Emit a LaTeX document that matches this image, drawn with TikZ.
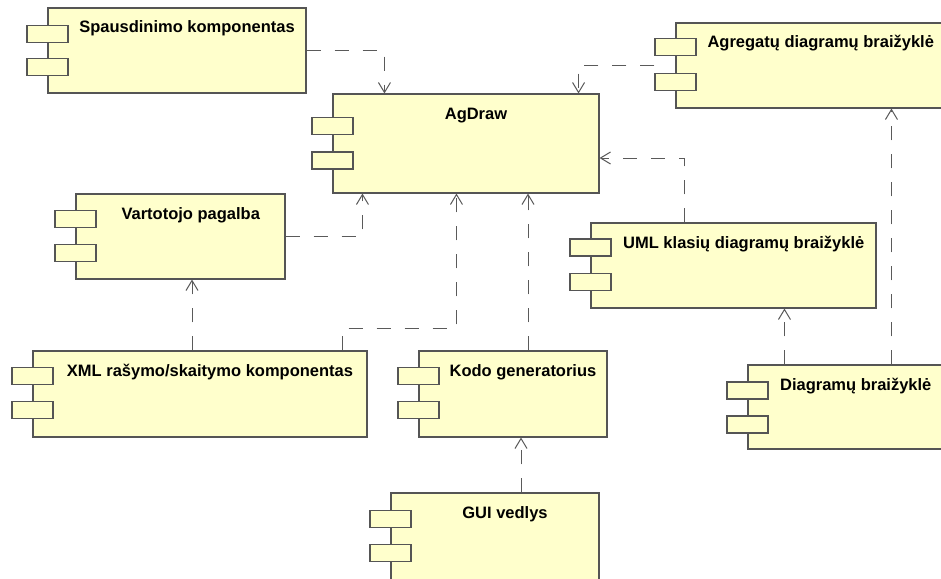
\documentclass[tikz,border=0pt]{standalone}
\usepackage{fontspec}
\setsansfont{Liberation Sans}
\usetikzlibrary{arrows.meta}
\definecolor{compfill}{HTML}{FFFFCC}
\definecolor{compline}{HTML}{555555}
\definecolor{depline}{HTML}{5A5A5A}

\begin{document}
\begin{tikzpicture}[x=1pt, y=-1pt,
    comp/.style={draw=compline, fill=compfill, line width=1.1pt, inner sep=0pt},
    tab/.style={draw=compline, fill=compfill, line width=1.1pt, inner sep=0pt, minimum width=41pt, minimum height=17pt},
    title/.style={anchor=base, inner sep=0pt, font=\sffamily\bfseries\fontsize{16.5}{19}\selectfont},
    dep/.style={draw=depline, line width=1pt, dash pattern=on 14pt off 14pt, -{Straight Barb[length=10pt, width=12pt, line width=1pt]}}]
        \clip (0,0) rectangle (941,578);
        \fill[white] (0,0) rectangle (941,578);

        \node[comp, minimum width=258pt, minimum height=85pt] (spaus) at (177,50.5) {};
        \node[tab] (spaus-t1) at ([yshift=-26.5pt]spaus.north west) {};
        \node[tab] (spaus-t2) at ([yshift=-59.5pt]spaus.north west) {};
        \node[title] (spaus-n) at (187,33) {Spausdinimo komponentas};

        \node[comp, minimum width=266pt, minimum height=99pt] (agdraw) at (466,143.5) {};
        \node[tab] (agdraw-t1) at ([yshift=-32.5pt]agdraw.north west) {};
        \node[tab] (agdraw-t2) at ([yshift=-67pt]agdraw.north west) {};
        \node[title] (agdraw-n) at (476,119) {AgDraw};

        \node[comp, minimum width=269pt, minimum height=85pt] (agreg) at (810.5,65.5) {};
        \node[tab] (agreg-t1) at ([yshift=-25pt]agreg.north west) {};
        \node[tab] (agreg-t2) at ([yshift=-59.5pt]agreg.north west) {};
        \node[title] (agreg-n) at (820.75,48) {Agregatų diagramų braižyklė};

        \node[comp, minimum width=209pt, minimum height=85pt] (vart) at (180.5,236.5) {};
        \node[tab] (vart-t1) at ([yshift=-25.5pt]vart.north west) {};
        \node[tab] (vart-t2) at ([yshift=-59.5pt]vart.north west) {};
        \node[title] (vart-n) at (190.75,219) {Vartotojo pagalba};

        \node[comp, minimum width=285pt, minimum height=85pt] (uml) at (733.5,265.5) {};
        \node[tab] (uml-t1) at ([yshift=-25pt]uml.north west) {};
        \node[tab] (uml-t2) at ([yshift=-59.5pt]uml.north west) {};
        \node[title] (uml-n) at (743.75,248) {UML klasių diagramų braižyklė};

        \node[comp, minimum width=334pt, minimum height=86pt] (xml) at (200,394) {};
        \node[tab] (xml-t1) at ([yshift=-25.5pt]xml.north west) {};
        \node[tab] (xml-t2) at ([yshift=-59.5pt]xml.north west) {};
        \node[title] (xml-n) at (210,376) {XML rašymo/skaitymo komponentas};

        \node[comp, minimum width=188pt, minimum height=86pt] (kodo) at (513,394) {};
        \node[tab] (kodo-t1) at ([yshift=-25.5pt]kodo.north west) {};
        \node[tab] (kodo-t2) at ([yshift=-59.5pt]kodo.north west) {};
        \node[title] (kodo-n) at (523,376) {Kodo generatorius};

        \node[comp, minimum width=195pt, minimum height=84pt] (diag) at (845.5,407) {};
        \node[tab] (diag-t1) at ([yshift=-26pt]diag.north west) {};
        \node[tab] (diag-t2) at ([yshift=-60pt]diag.north west) {};
        \node[title] (diag-n) at (855.75,390) {Diagramų braižyklė};

        \node[comp, minimum width=208pt, minimum height=90pt] (gui) at (495,538) {};
        \node[tab] (gui-t1) at ([yshift=-26.5pt]gui.north west) {};
        \node[tab] (gui-t2) at ([yshift=-60.5pt]gui.north west) {};
        \node[title] (gui-n) at (505,518) {GUI vedlys};

        \draw[dep] (spaus.east) -| ([xshift=52pt]agdraw.north west);
        \draw[dep] ([xshift=-21pt]agreg.west) -| ([xshift=-21pt]agdraw.north east);
        \draw[dep] (vart.east) -| ([xshift=30pt]agdraw.south west);
        \draw[dep] ([xshift=-8pt]xml.north) -- ([xshift=-8pt]xml.north |- vart.south);
        \draw[dep] ([xshift=-25pt]xml.north east) -- ++(0,-22) -| ([xshift=124pt]agdraw.south west);
        \draw[dep] ([xshift=15pt]kodo.north) -- ([xshift=15pt]kodo.north |- agdraw.south);
        \draw[dep] ([xshift=8pt]kodo.south |- gui.north) -- ([xshift=8pt]kodo.south);
        \draw[dep] ([xshift=94pt]uml.north west) |- ([yshift=-14.5pt]agdraw.east);
        \draw[dep] ([xshift=37pt]diag.north west) -- ([xshift=37pt]diag.north west |- uml.south);
        \draw[dep] ([xshift=144pt]diag.north west) -- ([xshift=144pt]diag.north west |- agreg.south);
    \end{tikzpicture}
\end{document}
